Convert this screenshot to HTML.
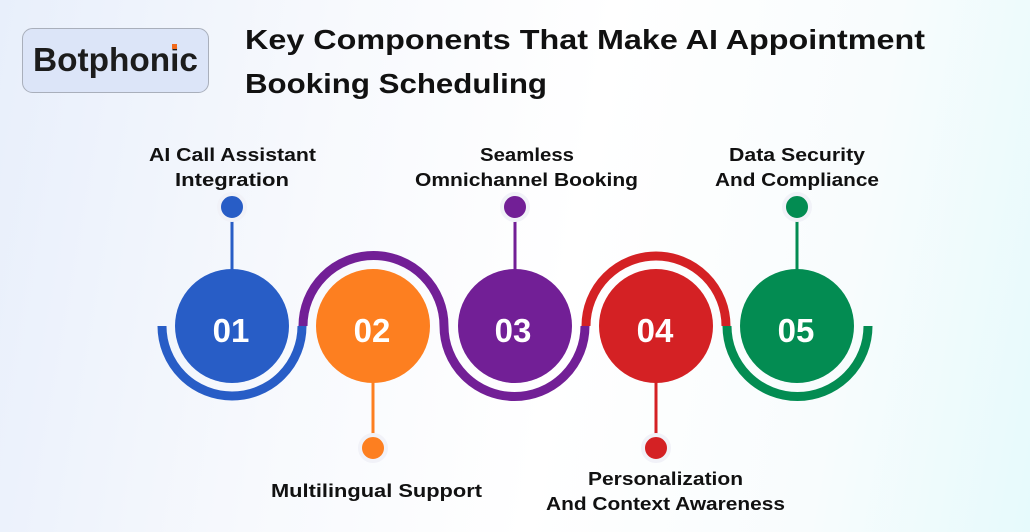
<!DOCTYPE html>
<html><head><meta charset="utf-8"><style>
html,body{margin:0;padding:0}
body{width:1030px;height:532px;overflow:hidden;background:linear-gradient(100deg,#e8effb 0%,#f7f9fd 30%,#ffffff 55%,#f8fcfd 80%,#e6fafc 100%);font-family:"Liberation Sans",sans-serif}
</style></head><body>
<svg width="1030" height="532" viewBox="0 0 1030 532" xmlns="http://www.w3.org/2000/svg" style="position:absolute;left:0;top:0">
<rect x="22.5" y="28.5" width="186" height="64" rx="10" fill="#dce5f8" stroke="#a9afbb" stroke-width="1"/>
<text x="33" y="71" textLength="165" lengthAdjust="spacingAndGlyphs" font-family="Liberation Sans" font-weight="bold" font-size="33" fill="#1c1c1c">Botphonic</text>
<rect x="172" y="44" width="5" height="5" fill="#f26a1b"/>
<text x="245" y="49" textLength="680" lengthAdjust="spacingAndGlyphs" font-family="Liberation Sans" font-weight="bold" font-size="28" fill="#111">Key Components That Make AI Appointment</text>
<text x="245" y="93" textLength="302" lengthAdjust="spacingAndGlyphs" font-family="Liberation Sans" font-weight="bold" font-size="28" fill="#111">Booking Scheduling</text>
<g fill="none" stroke-width="9">
<path d="M162 326 A70 70 0 0 0 302 326" stroke="#285dc6"/>
<path d="M303 326 A70 70 0 0 1 444 326" stroke="#721f96"/>
<path d="M444 326 A70 70 0 0 0 585 326" stroke="#721f96"/>
<path d="M586 326 A70 70 0 0 1 726 326" stroke="#d42124"/>
<path d="M727 326 A70 70 0 0 0 868 326" stroke="#038c52"/>
</g>
<g stroke-width="3">
<line x1="232" y1="218" x2="232" y2="270" stroke="#285dc6"/>
<line x1="373" y1="382" x2="373" y2="437" stroke="#fd7f20"/>
<line x1="515" y1="218" x2="515" y2="270" stroke="#721f96"/>
<line x1="656" y1="382" x2="656" y2="437" stroke="#d42124"/>
<line x1="797" y1="218" x2="797" y2="270" stroke="#038c52"/>
</g>
<g stroke="#f1f2f8" stroke-width="4">
<circle cx="232" cy="207" r="13" fill="#285dc6"/>
<circle cx="373" cy="448" r="13" fill="#fd7f20"/>
<circle cx="515" cy="207" r="13" fill="#721f96"/>
<circle cx="656" cy="448" r="13" fill="#d42124"/>
<circle cx="797" cy="207" r="13" fill="#038c52"/>
</g>
<circle cx="232" cy="326" r="57" fill="#285dc6"/>
<circle cx="373" cy="326" r="57" fill="#fd7f20"/>
<circle cx="515" cy="326" r="57" fill="#721f96"/>
<circle cx="656" cy="326" r="57" fill="#d42124"/>
<circle cx="797" cy="326" r="57" fill="#038c52"/>
<g font-family="Liberation Sans" font-weight="bold" font-size="33" fill="#fff" text-anchor="middle">
<text x="231" y="342">01</text><text x="372" y="342">02</text><text x="513" y="342">03</text><text x="655" y="342">04</text><text x="796" y="342">05</text>
</g>
<g font-family="Liberation Sans" font-weight="bold" font-size="18" fill="#111">
<text x="149" y="161" textLength="167" lengthAdjust="spacingAndGlyphs">AI Call Assistant</text>
<text x="175" y="186" textLength="114" lengthAdjust="spacingAndGlyphs">Integration</text>
<text x="480" y="161" textLength="94" lengthAdjust="spacingAndGlyphs">Seamless</text>
<text x="415" y="186" textLength="223" lengthAdjust="spacingAndGlyphs">Omnichannel Booking</text>
<text x="729" y="161" textLength="136" lengthAdjust="spacingAndGlyphs">Data Security</text>
<text x="715" y="186" textLength="164" lengthAdjust="spacingAndGlyphs">And Compliance</text>
<text x="271" y="497" textLength="211" lengthAdjust="spacingAndGlyphs">Multilingual Support</text>
<text x="588" y="485" textLength="155" lengthAdjust="spacingAndGlyphs">Personalization</text>
<text x="546" y="510" textLength="239" lengthAdjust="spacingAndGlyphs">And Context Awareness</text>
</g>
</svg>
</body></html>
